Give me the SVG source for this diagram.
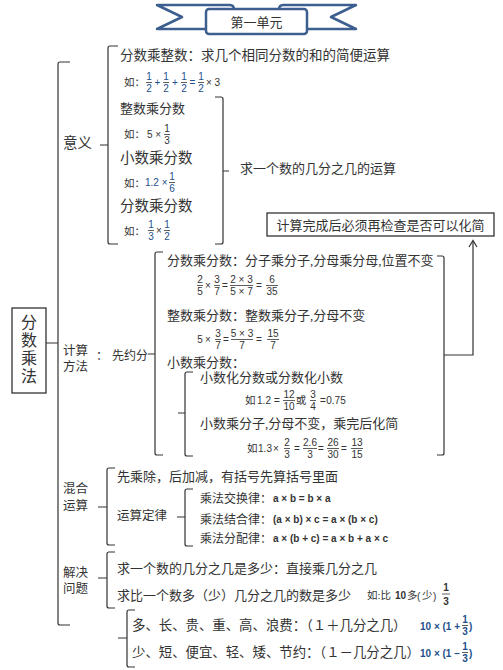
<svg xmlns="http://www.w3.org/2000/svg" width="503" height="670" viewBox="0 0 503 670">
<style>
.t{font-family:"Liberation Serif","Noto Sans CJK SC",serif;fill:#333}
.m{font-family:"Liberation Sans","Noto Sans CJK SC",sans-serif;font-size:10px;fill:#333}
.b{fill:#24508c}
.c{text-anchor:middle}
.br{fill:none;stroke:#333;stroke-width:1.2}
.fb{stroke:#333;stroke-width:0.8}
.rb{fill:#fff;stroke:#3d5f8f;stroke-width:2.5;stroke-linejoin:round}
</style>
<rect width="503" height="670" fill="#fff"/>

<g id="banner">
<path class="rb" d="M212,29 L157,29 L182,17 L157,5 L230,5 Q234,5 234,10"/>
<path class="rb" d="M301,29 L356,29 L331,17 L356,5 L283,5 Q279,5 279,10"/>
<rect class="rb" x="206" y="9" width="101" height="25" rx="3"/>
<text class="t c" x="256.5" y="26.5" font-size="13">第一单元</text>
</g>

<g id="root">
<rect x="12" y="308" width="34" height="85" fill="#fff" stroke="#222" stroke-width="1.2"/>
<text class="t c" x="29" y="328" font-size="16">分</text>
<text class="t c" x="29" y="346" font-size="16">数</text>
<text class="t c" x="29" y="364" font-size="16">乘</text>
<text class="t c" x="29" y="382" font-size="16">法</text>
</g>

<g id="connectors">
<path class="br" d="M70,62 H60 Q58,62 58,64 V623 Q58,625 60,625 H70 M46,343 H58"/>
<path class="br" d="M118,46 H110 Q108,46 108,48 V242 Q108,244 110,244 H118 M100,145 H108"/>
<path class="br" d="M215,97 H221 Q223,97 223,99 V242 Q223,244 221,244 H215 M223,171 H229"/>
<path class="br" d="M163,252 H157 Q155,252 155,254 V453 Q155,455 157,455 H163 M148,354 H155"/>
<path class="br" d="M437,256 H442 Q444,256 444,258 V453 Q444,455 442,455 H437"/>
<path class="br" d="M444,355 H473 V241"/>
<path class="br" d="M469,247 L473,240.5 L477,247"/>
<path class="br" d="M193,372 H187 Q185,372 185,374 V454 Q185,456 187,456 H193 M178,413 H185"/>
<path class="br" d="M115,468 H109 Q107,468 107,470 V543 Q107,545 109,545 H115 M98,507 H107"/>
<path class="br" d="M193,489 H187 Q185,489 185,491 V544 Q185,546 187,546 H193 M177,517 H185"/>
<path class="br" d="M115,552 H109 Q107,552 107,554 V606 Q107,608 109,608 H115 M98,578 H107"/>
<path class="br" d="M135,610 H129 Q127,610 127,612 V665 Q127,667 129,667 H135 M118,638 H127"/>
</g>

<g id="yiyi">
<text class="t" x="63" y="147.5" font-size="14.5">意义</text>
<text class="t" x="120" y="60" font-size="13.5">分数乘整数：求几个相同分数的和的简便运算</text>
<text class="t" x="124" y="86" font-size="10.5">如：</text>
<g class="m c b">
<text x="149" y="80">1</text><text x="149" y="92">2</text>
<text x="157.5" y="86">+</text>
<text x="166" y="80">1</text><text x="166" y="92">2</text>
<text x="175" y="86">+</text>
<text x="184" y="80">1</text><text x="184" y="92">2</text>
<text x="192.5" y="86">=</text>
<text x="201" y="80">1</text><text x="201" y="92">2</text>
</g>
<text class="m" x="206" y="86">× 3</text>
<path class="fb" d="M146,82.5 H152 M163,82.5 H169 M181,82.5 H187 M198,82.5 H204"/>

<text class="t" x="120" y="113" font-size="13">整数乘分数</text>
<text class="t" x="124" y="138" font-size="10.5">如：</text>
<text class="m" x="147" y="138">5 ×</text>
<text class="m c" x="167" y="132">1</text><text class="m c" x="167" y="144">3</text>
<path class="fb" d="M164,134.5 H170"/>

<text class="t" x="120" y="162.5" font-size="14.5">小数乘分数</text>
<text class="t" x="124" y="186.5" font-size="10.5">如：</text>
<text class="m b" x="145" y="186">1.2 ×</text>
<text class="m c b" x="172" y="180">1</text><text class="m c b" x="172" y="192">6</text>
<path class="fb" d="M169,182.5 H175"/>

<text class="t" x="120" y="210.5" font-size="14.5">分数乘分数</text>
<text class="t" x="124" y="234.5" font-size="10.5">如：</text>
<text class="m c b" x="151" y="228">1</text><text class="m c b" x="151" y="240">3</text>
<text class="m c" x="159" y="234">×</text>
<text class="m c b" x="167" y="228">1</text><text class="m c b" x="167" y="240">2</text>
<path class="fb" d="M148,230.5 H154 M164,230.5 H170"/>

<text class="t" x="240" y="173" font-size="13">求一个数的几分之几的运算</text>
</g>

<g id="note">
<rect x="267" y="213" width="227" height="23" fill="#fff" stroke="#222" stroke-width="1.2"/>
<text class="t c" x="380.5" y="229.5" font-size="13">计算完成后必须再检查是否可以化简</text>
</g>

<g id="jisuan">
<text class="t" x="63" y="355" font-size="12.5">计算</text>
<text class="t" x="63" y="371" font-size="12.5">方法</text>
<text class="t" x="96" y="359.5" font-size="12">：</text>
<text class="t" x="112" y="359.5" font-size="12">先约分</text>

<text class="t" x="167" y="265" font-size="13">分数乘分数：分子乘分子,分母乘分母,位置不变</text>
<g class="m c">
<text x="200" y="283">2</text><text x="200" y="295">5</text>
<text x="208" y="289">×</text>
<text x="217" y="283">3</text><text x="217" y="295">7</text>
<text x="225" y="289">=</text>
<text x="241.5" y="283">2 × 3</text><text x="241.5" y="295">5 × 7</text>
<text x="259" y="289">=</text>
<text x="272" y="283">6</text><text x="272" y="295">35</text>
</g>
<path class="fb" d="M197,285.5 H203 M214,285.5 H220 M230,285.5 H253 M266,285.5 H278"/>

<text class="t" x="167" y="320" font-size="13">整数乘分数：整数乘分子,分母不变</text>
<g class="m c">
<text x="200" y="343">5</text>
<text x="208" y="343">×</text>
<text x="218" y="337">3</text><text x="218" y="349">7</text>
<text x="226" y="343">=</text>
<text x="242" y="337">5 × 3</text><text x="242" y="349">7</text>
<text x="259" y="343">=</text>
<text x="273" y="337">15</text><text x="273" y="349">7</text>
</g>
<path class="fb" d="M215,339.5 H221 M231,339.5 H253 M267,339.5 H279"/>

<text class="t" x="167" y="367" font-size="13">小数乘分数：</text>
<text class="t" x="200" y="382" font-size="13">小数化分数或分数化小数</text>
<text class="t" x="245" y="404" font-size="10.5">如</text>
<g class="m c">
<text x="264" y="404">1.2</text>
<text x="277" y="404">=</text>
<text x="289" y="398">12</text><text x="289" y="410">10</text>
<text x="313" y="398">3</text><text x="313" y="410">4</text>
<text x="323" y="404">=</text>
<text x="336" y="404">0.75</text>
</g>
<text class="t c" x="301" y="404" font-size="10.5">或</text>
<path class="fb" d="M283,400.5 H295 M310,400.5 H316"/>

<text class="t" x="200" y="428" font-size="13">小数乘分子,分母不变，乘完后化简</text>
<text class="t" x="247" y="452" font-size="10.5">如</text>
<g class="m c">
<text x="265" y="452">1.3</text>
<text x="276" y="452">×</text>
<text x="287" y="446">2</text><text x="287" y="458">3</text>
<text x="297" y="452">=</text>
<text x="310" y="446">2.6</text><text x="310" y="458">3</text>
<text x="321" y="452">=</text>
<text x="333" y="446">26</text><text x="333" y="458">30</text>
<text x="344" y="452">=</text>
<text x="357" y="446">13</text><text x="357" y="458">15</text>
</g>
<path class="fb" d="M284,448.5 H290 M303,448.5 H317 M327,448.5 H339 M351,448.5 H363"/>
</g>

<g id="hunhe">
<text class="t" x="63" y="493" font-size="12.5">混合</text>
<text class="t" x="63" y="510" font-size="12.5">运算</text>
<text class="t" x="117" y="481" font-size="13">先乘除，后加减，有括号先算括号里面</text>
<text class="t" x="117" y="520" font-size="12.5">运算定律</text>
<text class="t" x="200" y="503" font-size="12">乘法交换律：</text>
<text class="m" x="273" y="502" font-weight="bold">a × b = b × a</text>
<text class="t" x="200" y="524" font-size="12">乘法结合律：</text>
<text class="m" x="273" y="523" font-weight="bold">(a × b) × c = a × (b × c)</text>
<text class="t" x="200" y="543" font-size="12">乘法分配律：</text>
<text class="m" x="273" y="542" font-weight="bold">a × (b + c) = a × b + a × c</text>
</g>

<g id="jiejue">
<text class="t" x="63" y="577" font-size="12.5">解决</text>
<text class="t" x="63" y="593" font-size="12.5">问题</text>
<text class="t" x="117" y="573" font-size="13">求一个数的几分之几是多少：直接乘几分之几</text>
<text class="t" x="117" y="600" font-size="13">求比一个数多（少）几分之几的数是多少</text>
<text class="t" x="367" y="599" font-size="10.5">如:比</text>
<text class="m" x="395" y="599" font-weight="bold">10</text>
<text class="t" x="407" y="599" font-size="10.5">多</text>
<text class="m" x="417" y="600" font-size="13" fill="#c98a2a">(</text>
<text class="t" x="422" y="599" font-size="10.5">少</text>
<text class="m" x="433" y="600" font-size="13" fill="#c98a2a">)</text>
<text class="m c" x="446" y="591" font-size="11" font-weight="bold">1</text>
<text class="m c" x="446" y="605" font-size="11" font-weight="bold">3</text>
<path class="fb" d="M442,594 H450"/>

<text class="t" x="132" y="630" font-size="13.4">多、长、贵、重、高、浪费：（１＋几分之几）</text>
<text class="m b" x="420" y="629.5" font-weight="bold">10 × (1 +</text>
<text class="m c b" x="465" y="623" font-weight="bold">1</text>
<text class="m c b" x="465" y="635" font-weight="bold">3</text>
<text class="m b" x="469" y="629.5" font-weight="bold">)</text>
<path class="fb" d="M462,625.5 H468"/>

<text class="t" x="132" y="657" font-size="13.4">少、短、便宜、轻、矮、节约：（１－几分之几）</text>
<text class="m b" x="420" y="656.5" font-weight="bold">10 × (1 −</text>
<text class="m c b" x="465" y="650" font-weight="bold">1</text>
<text class="m c b" x="465" y="662" font-weight="bold">3</text>
<text class="m b" x="469" y="656.5" font-weight="bold">)</text>
<path class="fb" d="M462,652.5 H468"/>
</g>
</svg>
